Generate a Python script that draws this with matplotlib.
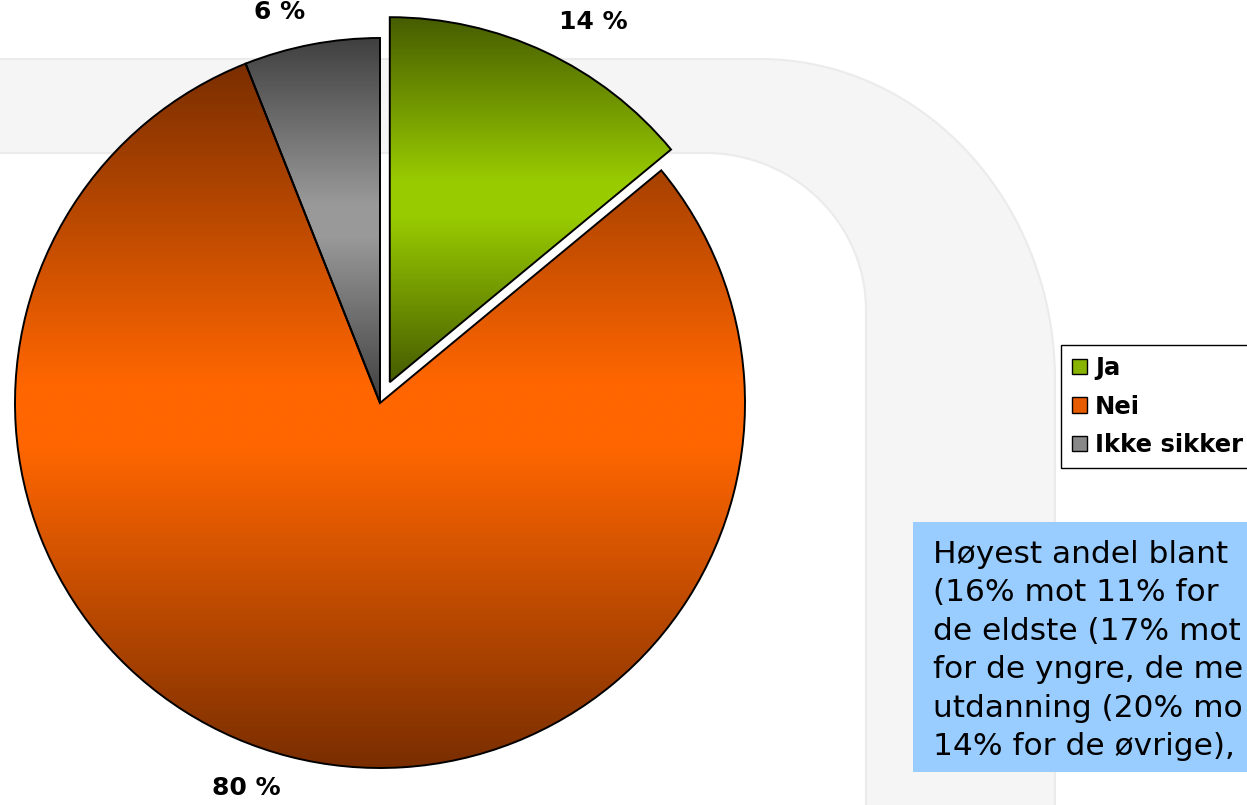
import numpy as np
import matplotlib
matplotlib.use("Agg")
import matplotlib.pyplot as plt
from matplotlib.patches import Rectangle, PathPatch
from matplotlib.path import Path
from matplotlib.colors import LinearSegmentedColormap

# ---- data ----
categories = ['Ja', 'Nei', 'Ikke sikker']
values = [14, 80, 6]
explode_frac = [0.063, 0, 0]
dark_colors = ['#465c00', '#7a2e00', '#404040']
bright_colors = ['#99cc00', '#ff6600', '#999999']
legend_colors = ['#88b400', '#e85c00', '#888888']
note_lines = ['Høyest andel blant',
              '(16% mot 11% for',
              'de eldste (17% mot',
              'for de yngre, de me',
              'utdanning (20% mo',
              '14% for de øvrige),']

W, H = 1247, 805
R = 365
fig = plt.figure(figsize=(W / 100, H / 100), dpi=100)
ax = fig.add_axes([0, 0, 1, 1])

# ---- decorative background band ----
def arc(cx, cy, rx, ry, a0, a1, n=60):
    t = np.radians(np.linspace(a0, a1, n))
    return list(zip(cx + rx * np.cos(t), cy + ry * np.sin(t)))

pts = [(-10, H - 59), (760, H - 59)]
pts += arc(760, H - 380, 295, 321, 90, 0)
pts += [(1055, -10), (866, -10), (866, H - 310)]
pts += arc(705, H - 310, 161, 157, 0, 90)
pts += [(-10, H - 153), (-10, H - 59)]
band = PathPatch(Path(pts), facecolor='#f5f5f5', edgecolor='#ebebeb', lw=1.5, zorder=0)
ax.add_patch(band)

# ---- pie ----
wedges, texts, autotexts = ax.pie(
    values, startangle=90, counterclock=False,
    explode=[e * R for e in explode_frac],
    center=(380, H - 403), radius=R,
    autopct=lambda p: f'{p:.0f} %', pctdistance=1.09,
    wedgeprops=dict(edgecolor='black', linewidth=1.4),
    textprops=dict(fontsize=18, fontweight='bold', color='black'))

for t, w in zip(autotexts, wedges):
    t.set_ha('left' if t.get_position()[0] > w.center[0] else 'right')
    t.set_va('center')

grad = np.linspace(0, 1, 256)
grad = np.clip(1.1 * (1 - np.abs(2 * grad - 1)), 0, 1)[:, None]
for w, dc, bc in zip(wedges, dark_colors, bright_colors):
    ext = w.get_path().get_extents()
    cmap = LinearSegmentedColormap.from_list('g', [dc, bc])
    im = ax.imshow(grad, extent=(ext.x0, ext.x1, ext.y0, ext.y1), origin='lower',
                   cmap=cmap, vmin=0, vmax=1, aspect='auto', zorder=1,
                   interpolation='bilinear')
    im.set_clip_path(w)
    w.set_facecolor('none')
    w.set_zorder(2)

# ---- note box ----
ax.add_patch(Rectangle((913, H - 772), 400, 250, facecolor='#99ccff',
                       edgecolor='none', zorder=5))
for i, line in enumerate(note_lines):
    ax.text(933, H - (563 + 38.4 * i), line, fontsize=22.5, color='black',
            ha='left', va='baseline', zorder=6)

ax.set_xlim(0, W)
ax.set_ylim(0, H)
ax.set_aspect('auto')
ax.axis('off')

# ---- legend ----
handles = [Rectangle((0, 0), 1, 1, facecolor=c, edgecolor='black', lw=1) for c in legend_colors]
leg = fig.legend(handles, categories, loc='upper left',
                 bbox_to_anchor=(1061 / W, 1 - 345 / H), bbox_transform=fig.transFigure,
                 frameon=True, fancybox=False, edgecolor='black', framealpha=1,
                 prop=dict(weight='bold', size=17.5), handlelength=0.6, handleheight=0.6,
                 handletextpad=0.35, labelspacing=0.6, borderpad=0.45, borderaxespad=0)
leg.get_frame().set_linewidth(1.0)

fig.savefig('out.png', dpi=100)
